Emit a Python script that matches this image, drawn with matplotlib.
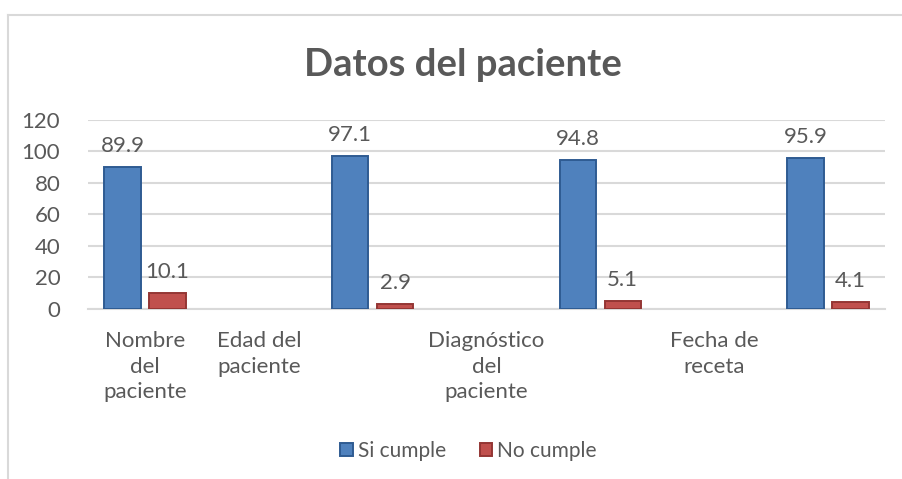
import matplotlib.pyplot as plt
import matplotlib.lines as mlines
import numpy as np

categories = ["Nombre\ndel\npaciente", "Edad del\npaciente", "", "Diagnóstico\ndel\npaciente",
              "", "Fecha de\nreceta", ""]
si_cumple = [89.9, np.nan, 97.1, np.nan, 94.8, np.nan, 95.9]
no_cumple = [10.1, np.nan, 2.9, np.nan, 5.1, np.nan, 4.1]
yticks = [0, 20, 40, 60, 80, 100, 120]

gray = "#595959"
plt.rcParams["font.family"] = ["Lato", "DejaVu Sans"]

fig = plt.figure(figsize=(9.03, 4.79), dpi=100)
ax = fig.add_axes([0.0975, 0.355, 0.8825, 0.3945])

x = np.arange(len(categories))
w = 0.32
off = 0.197
b1 = ax.bar(x - off, si_cumple, w, color="#4f81bd", edgecolor="#2f5b92", linewidth=1.4,
            label="Si cumple", zorder=3)
b2 = ax.bar(x + off, no_cumple, w, color="#c0504d", edgecolor="#943634", linewidth=1.4,
            label="No cumple", zorder=3)

for bars, vals in ((b1, si_cumple), (b2, no_cumple)):
    for rect, v in zip(bars, vals):
        if np.isnan(v):
            continue
        ax.annotate(f"{v:.1f}", (rect.get_x() + rect.get_width() / 2, v),
                    xytext=(0, 8), textcoords="offset points", ha="center", va="bottom",
                    fontsize=16, color=gray)

ax.set_xlim(-0.5, len(categories) - 0.5)
ax.set_ylim(0, 120)
ax.set_yticks(yticks)
ax.yaxis.grid(True, color="#d9d9d9", linewidth=1.5, zorder=0)
ax.set_axisbelow(True)
ax.set_xticks(x)
ax.set_xticklabels(categories, fontsize=16, color=gray, linespacing=1.35)
ax.tick_params(axis="y", length=0, pad=20, labelsize=16, labelcolor=gray)
ax.tick_params(axis="x", length=0, pad=16)
for s in ["top", "right", "left"]:
    ax.spines[s].set_visible(False)
ax.spines["bottom"].set_color("#d9d9d9")
ax.spines["bottom"].set_linewidth(1.5)

fig.text(0.513, 0.864, "Datos del paciente", ha="center", va="center", fontsize=27.5,
         fontweight="bold", color=gray)

leg = fig.legend(handles=[b1, b2], loc="center", bbox_to_anchor=(0.519, 0.058), ncol=2,
                 frameon=False, fontsize=15, handlelength=0.6, handleheight=0.6,
                 handletextpad=0.25, columnspacing=1.6)
for t in leg.get_texts():
    t.set_color(gray)

# chart border (cropped on the right and bottom)
fig.add_artist(mlines.Line2D([8 / 903, 1], [1 - 15 / 479] * 2, color="#d9d9d9", lw=1.5))
fig.add_artist(mlines.Line2D([8 / 903] * 2, [0, 1 - 15 / 479], color="#d9d9d9", lw=1.5))

plt.savefig("out.png", dpi=100)
